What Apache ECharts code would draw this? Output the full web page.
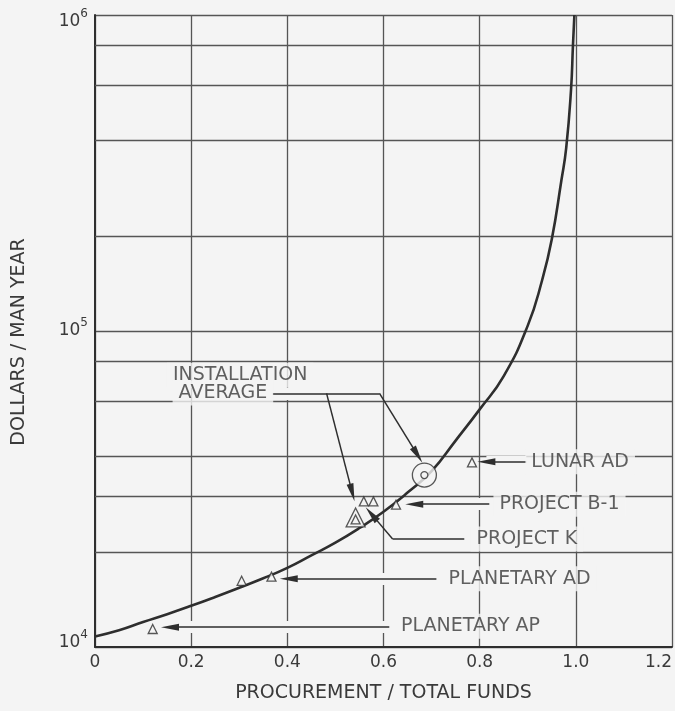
<!DOCTYPE html>
<html>
<head>
<meta charset="utf-8">
<script src="https://cdn.jsdelivr.net/npm/echarts@6/dist/echarts.min.js"></script>
<style>
  html, body { margin: 0; padding: 0; background: #f4f4f4; }
  #chart { width: 675px; height: 711px; }
</style>
</head>
<body>
<div id="chart"></div>
<script>
// curve: procurement fraction vs dollars / man year
const curveX = [0, 0.05, 0.1, 0.15, 0.2, 0.25, 0.3, 0.35, 0.4, 0.45, 0.5, 0.55, 0.6, 0.65, 0.7, 0.75, 0.8, 0.85, 0.9, 0.93, 0.95, 0.97, 0.98, 0.99, 0.994, 0.997];
const curveY = [10800, 11300, 12000, 12700, 13500, 14400, 15400, 16500, 17800, 19500, 21400, 23800, 26800, 30800, 36000, 45000, 56500, 72000, 104000, 145000, 195000, 300000, 380000, 580000, 800000, 1000000];

// project points (hollow triangles)
const pointX = [0.12, 0.305, 0.367, 0.559, 0.579, 0.626, 0.784];
const pointY = [11400, 16200, 16700, 28900, 28900, 28200, 38400];

// installation averages
const avgTriangleX = [0.542];
const avgTriangleY = [25700];
const avgCircleX = [0.685];
const avgCircleY = [35000];

// axes
const xTicks = [0, 0.2, 0.4, 0.6, 0.8, 1.0, 1.2];
const yDecades = [1e4, 1e5, 1e6];
const yMinorLines = [2e4, 3e4, 4e4, 6e4, 8e4, 2e5, 4e5, 6e5, 8e5];

const BG = '#f4f4f4';
const INK = '#2e2e2e';
const GRID = '#555';
const TEXT = '#3a3a3a';
const FONT = 'DejaVu Sans';

const chart = echarts.init(document.getElementById('chart'), null, { renderer: 'canvas' });

// annotation texts, placed in data coordinates
const labelItems = [
  { name: 'INSTALLATION', value: [0.302, 72500] },
  { name: 'AVERAGE', value: [0.266, 63700] },
  { name: 'LUNAR AD', value: [1.009, 38570] },
  { name: 'PROJECT B-1', value: [0.966, 28300] },
  { name: 'PROJECT K', value: [0.898, 21960] },
  { name: 'PLANETARY AD', value: [0.883, 16450] },
  { name: 'PLANETARY AP', value: [0.781, 11640] }
];

// leader lines: [from, to, arrow?]
const seg = (a, b, arrow) => [
  { coord: a, symbol: 'none' },
  { coord: b, symbol: arrow ? 'triangle' : 'none', symbolSize: [7, 18] }
];
const leaders = [
  seg([0.3695, 63500], [0.5917, 63500], false),
  seg([0.5917, 63500], [0.671, 40500], true),
  seg([0.4816, 63500], [0.535, 30800], true),
  seg([0.897, 38570], [0.814, 38570], true),
  seg([0.820, 28300], [0.664, 28300], true),
  seg([0.768, 21960], [0.619, 21960], false),
  seg([0.619, 21960], [0.575, 26330], true),
  seg([0.710, 16450], [0.403, 16450], true),
  seg([0.612, 11550], [0.156, 11550], true)
];
// the drawn gridlines are broken where the horizontal leaders run
const halos = [0, 3, 4, 5, 7, 8].map(i => [
  { coord: leaders[i][0].coord },
  { coord: leaders[i][1].coord }
]);

const hollow = { color: BG, borderColor: INK, borderWidth: 1.3 };

const option = {
  backgroundColor: BG,
  animation: false,
  grid: { left: 95, right: 2, top: 10, bottom: 64, containLabel: false },
  xAxis: {
    type: 'value',
    min: xTicks[0],
    max: xTicks[xTicks.length - 1],
    interval: xTicks[1] - xTicks[0],
    name: 'PROCUREMENT / TOTAL FUNDS',
    nameLocation: 'middle',
    nameGap: 37,
    nameTextStyle: { fontFamily: FONT, fontSize: 19, color: TEXT },
    axisLine: { onZero: false, lineStyle: { color: INK, width: 2 } },
    axisTick: { show: false },
    axisLabel: {
      margin: 7,
      fontFamily: FONT,
      fontSize: 17,
      color: TEXT,
      alignMaxLabel: 'right',
      formatter: v => (v === 0 ? '0' : v.toFixed(1))
    },
    splitLine: { show: true, lineStyle: { color: GRID, width: 1.3 } }
  },
  yAxis: {
    type: 'log',
    logBase: 10,
    min: yDecades[0],
    max: yDecades[yDecades.length - 1],
    name: 'DOLLARS / MAN YEAR',
    nameLocation: 'middle',
    nameGap: 66,
    nameTextStyle: { fontFamily: FONT, fontSize: 19, color: TEXT, padding: [0, 22, 0, 0] },
    axisLine: { onZero: false, lineStyle: { color: INK, width: 2 } },
    axisTick: { show: false },
    axisLabel: {
      margin: 7,
      fontFamily: FONT,
      color: TEXT,
      lineHeight: 20,
      formatter: v => {
        const e = Math.round(Math.log10(v));
        const s = '{b|10}{s|' + e + '}';
        if (e === 6) return '{gt| }\n' + s;
        if (e === 4) return s + '\n{gb| }';
        return s + '\n{gm| }';
      },
      rich: {
        b: { fontFamily: FONT, fontSize: 17, color: TEXT, lineHeight: 22, verticalAlign: 'bottom' },
        s: { fontFamily: FONT, fontSize: 12, color: TEXT, lineHeight: 12, verticalAlign: 'top' },
        gt: { fontSize: 1, lineHeight: 8 },
        gm: { fontSize: 1, lineHeight: 6 },
        gb: { fontSize: 1, lineHeight: 14 }
      }
    },
    splitLine: { show: true, lineStyle: { color: GRID, width: 1.3 } }
  },
  series: [
    {
      name: 'minor grid',
      type: 'line',
      data: [],
      silent: true,
      markLine: {
        silent: true,
        z: 1,
        symbol: 'none',
        label: { show: false },
        lineStyle: { color: GRID, width: 1.3, type: 'solid' },
        data: yMinorLines.map(v => ({ yAxis: v }))
      }
    },
    {
      name: 'halo',
      type: 'line',
      data: [],
      silent: true,
      markLine: {
        silent: true,
        z: 2,
        symbol: 'none',
        label: { show: false },
        lineStyle: { color: BG, width: 12, type: 'solid', cap: 'butt' },
        data: halos
      }
    },
    {
      name: 'curve',
      type: 'line',
      z: 3,
      silent: true,
      showSymbol: false,
      smooth: 0.5,
      lineStyle: { color: INK, width: 2.6 },
      data: curveX.map((x, i) => [x, curveY[i]])
    },
    {
      name: 'leaders',
      type: 'line',
      data: [],
      silent: true,
      markLine: {
        silent: true,
        z: 4,
        label: { show: false },
        lineStyle: { color: INK, width: 1.5, type: 'solid' },
        itemStyle: { color: INK },
        data: leaders
      }
    },
    {
      name: 'points',
      type: 'scatter',
      z: 5,
      silent: true,
      symbol: 'triangle',
      symbolSize: 9,
      itemStyle: hollow,
      data: pointX.map((x, i) => [x, pointY[i]])
    },
    {
      name: 'average triangle',
      type: 'scatter',
      z: 5,
      silent: true,
      symbol: 'triangle',
      symbolSize: 19,
      itemStyle: hollow,
      data: avgTriangleX.map((x, i) => [x, avgTriangleY[i]])
    },
    {
      name: 'average triangle inner',
      type: 'scatter',
      z: 6,
      silent: true,
      symbol: 'triangle',
      symbolSize: 9,
      symbolOffset: [0, 2],
      itemStyle: hollow,
      data: avgTriangleX.map((x, i) => [x, avgTriangleY[i]])
    },
    {
      name: 'average circle',
      type: 'scatter',
      z: 5,
      silent: true,
      symbol: 'circle',
      symbolSize: 24,
      itemStyle: hollow,
      data: avgCircleX.map((x, i) => [x, avgCircleY[i]])
    },
    {
      name: 'average circle inner',
      type: 'scatter',
      z: 6,
      silent: true,
      symbol: 'circle',
      symbolSize: 7,
      itemStyle: hollow,
      data: avgCircleX.map((x, i) => [x, avgCircleY[i]])
    },
    {
      name: 'labels',
      type: 'scatter',
      z: 7,
      silent: true,
      symbolSize: 1,
      itemStyle: { color: 'rgba(0,0,0,0)' },
      label: {
        show: true,
        position: 'inside',
        formatter: '{b}',
        fontFamily: FONT,
        fontSize: 19,
        color: TEXT,
        backgroundColor: BG,
        padding: [3, 6]
      },
      data: labelItems
    }
  ]
};

chart.setOption(option);
</script>
</body>
</html>
